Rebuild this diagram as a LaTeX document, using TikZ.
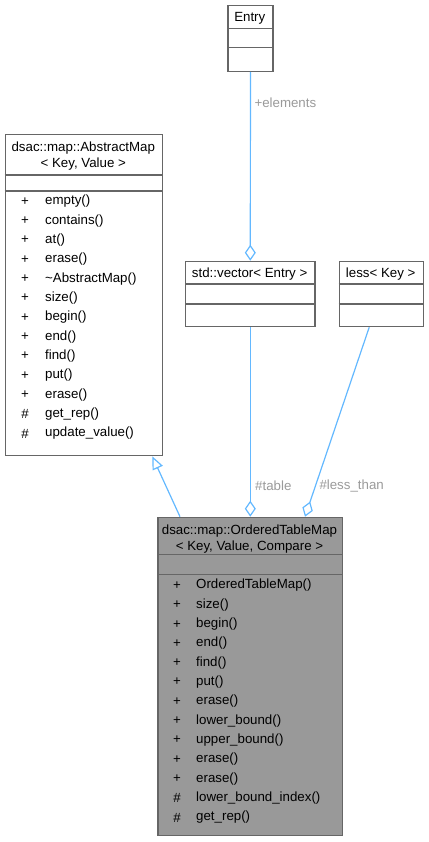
\documentclass[tikz,border=0pt]{standalone}
\usepackage{fontspec}
\setmainfont{Liberation Sans}
\usetikzlibrary{arrows.meta,calc}
\definecolor{edgec}{HTML}{63B8FF}
\definecolor{boxc}{HTML}{666666}
\definecolor{lblc}{HTML}{9A9A9A}
\definecolor{otmfill}{HTML}{999999}
\begin{document}
\begin{tikzpicture}[x=1pt,y=-1pt,
 box/.style={draw=boxc, line width=1.3pt, inner sep=0pt, anchor=north west},
 sep/.style={draw=boxc, line width=1.3pt},
 txt/.style={inner sep=0pt, font=\fontsize{13.3}{15.5}\selectfont},
 mem/.style={txt, anchor=west},
 lbl/.style={txt, text=lblc, anchor=west},
 edge/.style={draw=edgec, line width=1.2pt},
 agg/.style={edge, -{Diamond[open, length=16pt, width=11pt]}},
 inh/.style={edge, -{Triangle[open, length=13pt, width=11pt]}}]
\useasboundingbox (0,0) rectangle (428,842);

% Entry
\node[box, minimum width=45, minimum height=65.7] (entry) at (227.3,5) {};
\draw[sep] (entry.west |- 0,28.3) -- (entry.east |- 0,28.3);
\draw[sep] (entry.west |- 0,47.7) -- (entry.east |- 0,47.7);
\node[txt] (entryT) at (249.8,18.5) {Entry};

% std::vector
\node[box, minimum width=129.3, minimum height=65.3] (vec) at (185,260.7) {};
\draw[sep] (vec.west |- 0,284) -- (vec.east |- 0,284);
\draw[sep] (vec.west |- 0,304) -- (vec.east |- 0,304);
\node[txt] (vecT) at (249.65,274) {std::vector< Entry >};

% less
\node[box, minimum width=84, minimum height=65.3] (less) at (338.7,260.7) {};
\draw[sep] (less.west |- 0,284) -- (less.east |- 0,284);
\draw[sep] (less.west |- 0,304) -- (less.east |- 0,304);
\node[txt] (lessT) at (380.7,274) {less< Key >};

% AbstractMap
\node[box, minimum width=157.3, minimum height=321] (abs) at (4.7,134) {};
\draw[sep] (abs.west |- 0,175) -- (abs.east |- 0,175);
\draw[sep] (abs.west |- 0,191) -- (abs.east |- 0,191);
\node[txt, align=center] (absT) at (83.3,156) {dsac::map::AbstractMap\\< Key, Value >};
\foreach \v/\m [count=\i from 0] in {+/empty(), +/contains(), +/at(), +/erase(), +/\textasciitilde AbstractMap(), +/size(), +/begin(), +/end(), +/find(), +/put(), +/erase(), \#/get\_rep(), \#/update\_value()} {
  \node[txt] (av\i) at (25,201.5+19.33*\i) {\v};
  \node[mem] (am\i) at (45,201.5+19.33*\i) {\m};
}

% OrderedTableMap
\node[box, fill=otmfill, minimum width=184.4, minimum height=318.3] (otm) at (157.3,516.7) {};
\draw[sep] (otm.west |- 0,554.3) -- (otm.east |- 0,554.3);
\draw[sep] (otm.west |- 0,574.3) -- (otm.east |- 0,574.3);
\node[txt, align=center] (otmT) at (249.5,539) {dsac::map::OrderedTableMap\\< Key, Value, Compare >};
\foreach \v/\m [count=\i from 0] in {+/OrderedTableMap(), +/size(), +/begin(), +/end(), +/find(), +/put(), +/erase(), +/lower\_bound(), +/upper\_bound(), +/erase(), +/erase(), \#/lower\_bound\_index(), \#/get\_rep()} {
  \node[txt] (ov\i) at (177,585.5+19.33*\i) {\v};
  \node[mem] (om\i) at (196,585.5+19.33*\i) {\m};
}

% connectors
\draw[agg] (entry.south) -- (vec.north);
\node[lbl] (lelem) at (254.3,102.7) {+elements};
\draw[agg] (vec.south) -- (vec.south |- otm.north);
\node[lbl] (ltable) at (255,486) {\#table};
\draw[agg] ($(less.south west)+(30.5,0)$) -- ($(otm.north west)+(147.7,0)$);
\node[lbl] (lless) at (319.3,486) {\#less\_than};
\draw[inh] ($(otm.north west)+(22.7,0)$) -- ($(abs.south west)+(147.6,0)$);
\end{tikzpicture}
\end{document}
